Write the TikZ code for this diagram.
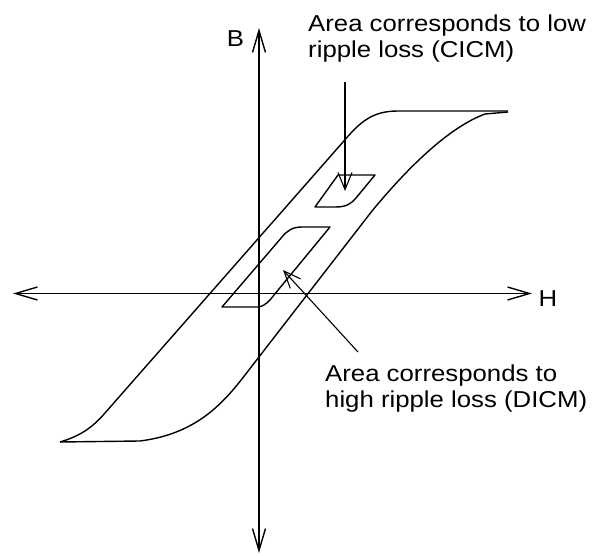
\documentclass[tikz,border=0pt]{standalone}
\usepackage{fontspec}
\setmainfont[FakeStretch=1.12]{Liberation Sans}
\usetikzlibrary{arrows.meta}
\begin{document}
\begin{tikzpicture}[x=1pt,y=-1pt,font=\fontsize{23}{26}\selectfont,
    barb/.style={Straight Barb[length=22pt,width=13pt,line width=1.4pt]},
    axis/.style={line width=1.8pt,{Straight Barb[length=22pt,width=13pt,line width=1.4pt]}-{Straight Barb[length=22pt,width=13pt,line width=1.4pt]}},
    curve/.style={line width=1.4pt,line join=round},
    pointer/.style={line width=1.1pt,-{Straight Barb[length=17pt,width=14pt,line width=1.1pt]}},
    caption/.style={align=left,inner sep=0pt,anchor=north west},
    letter/.style={inner sep=0pt}]
  \useasboundingbox (0,0) rectangle (592,556);
  % axes
  \coordinate (west) at (13,293.5);
  \coordinate (east) at (532,293.5);
  \coordinate (north) at (259,28);
  \coordinate (south) at (259,553);
  \draw[axis] (west) -- (east);
  \draw[axis] (south) -- (north);
  \node[letter] (hlabel) at (548,299) {H};
  \node[letter] (blabel) at (235.5,39) {B};
  % major loop
  \draw[curve] (60,442) .. controls (80,436) and (92,428) .. (105,413)
    -- (343,142) .. controls (360,122) and (372,111) .. (398,111) -- (508,111);
  \draw[curve] (508,112) -- (485,114) .. controls (450,127) and (410,165) .. (372,211)
    -- (245,375) .. controls (222,405) and (195,434) .. (140,441) -- (60,442);
  % minor loops
  \draw[curve] (222,307) -- (258,307) .. controls (266,306) and (270,300) .. (274,295)
    -- (330,227) -- (302,227) .. controls (292,227) and (287,231) .. (282,237) -- cycle;
  \draw[curve] (315,207) -- (338,175) -- (375,175) -- (356,198)
    .. controls (350,205) and (345,207) .. (335,207) -- cycle;
  % labels
  \node[caption] (lowtxt) at (308,15) {Area corresponds to low\\ripple loss (CICM)};
  \node[caption] (hightxt) at (325,365) {Area corresponds to\\high ripple loss (DICM)};
  \coordinate (lowfrom) at (345,82);
  \coordinate (lowtip) at (345,191);
  \coordinate (highfrom) at (358,352);
  \coordinate (hightip) at (283,270);
  \draw[pointer] (lowfrom) -- (lowtip);
  \draw[pointer] (highfrom) -- (hightip);
\end{tikzpicture}
\end{document}
